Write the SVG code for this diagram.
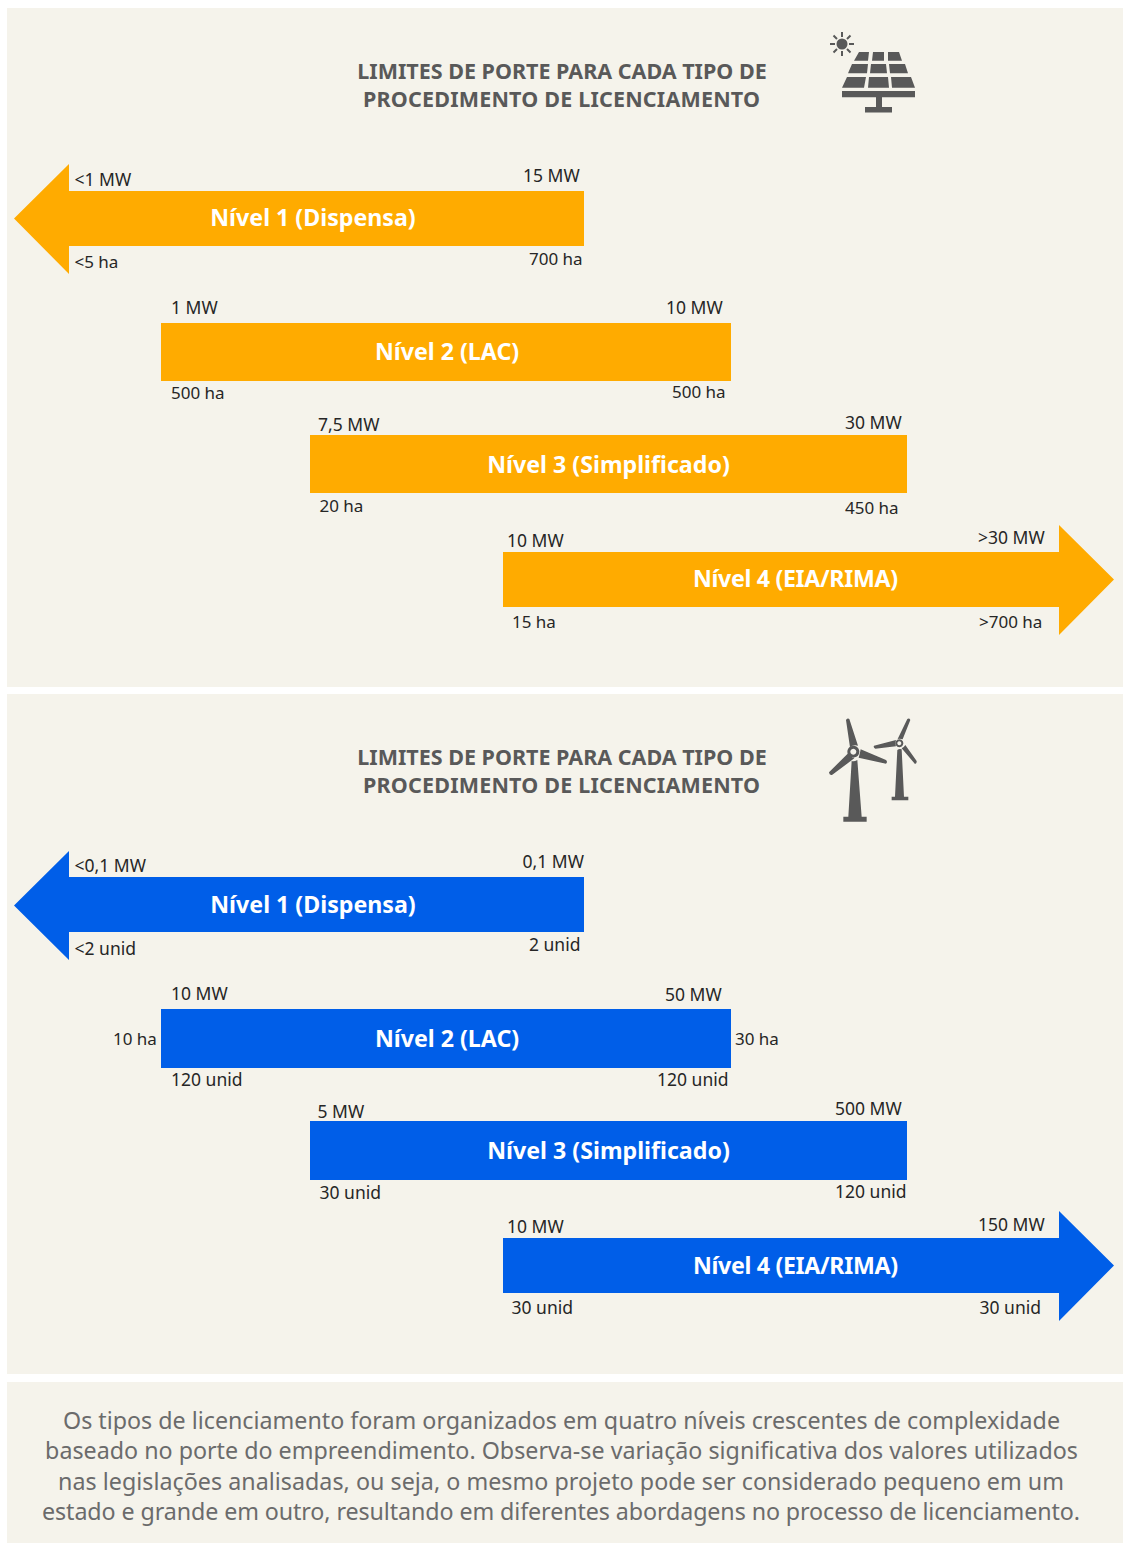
<svg xmlns="http://www.w3.org/2000/svg" width="1123" height="1543" viewBox="0 0 1123 1543">
<style>
text{font-family:"Noto Sans","Open Sans","Liberation Sans",sans-serif}
.panel{fill:#f5f3eb}
.title{font-size:21.500px;font-weight:700;fill:#595959;text-anchor:middle}
.lab{font-size:17.500px;fill:#262626}
.ha{font-size:17px}
.bar{font-size:23.200px;font-weight:700;fill:#fff;text-anchor:middle}
.note{font-size:23.250px;fill:#6b6b6b;text-anchor:middle}
.o{fill:#ffab00}.b{fill:#005ee8}
.icon{fill:#595959}
</style>
<rect width="1123" height="1543" fill="#fff"/>
<rect class="panel" x="7" y="8" width="1116" height="679"/>
<rect class="panel" x="7" y="694" width="1116" height="680"/>
<rect class="panel" x="7" y="1382" width="1116" height="161"/>
<g id="solar-title"><text class="title" x="562" y="78.500">LIMITES DE PORTE PARA CADA TIPO DE</text><text class="title" x="561.500" y="106.500" textLength="397">PROCEDIMENTO DE LICENCIAMENTO</text></g>
<g id="solar-icon" class="icon">
<circle cx="842" cy="44" r="5.500"/>
<path d="M842 32v5M842 51v5M830 44h5M849 44h5M833.500 35.500l3.500 3.500M847 49l3.500 3.500M833.500 52.500l3.500-3.500M847 39l3.500-3.500" stroke="#595959" stroke-width="2" fill="none"/>
<path d="M859 52h10l-1 8.700h-14zM873 52h11v8.700h-12zM888 52h11l3 8.700h-14zM852 64h16l-1 9.300h-19zM871 64h15l1 9.300h-17zM889 64h16l3 9.300h-18zM847 77h19l-2 10.700h-22zM869 77h19l1 10.700h-21zM891 77h20l4 10.700h-23zM842 91h73v6.300h-73zM876 97h6v11h-6zM865 107h27v5.500h-27z"/>
</g>
<g id="solar-n1"><path class="o" d="M584 191V246H69V274L14 218.500L69 164V191Z"/><text class="bar" x="313" y="226">Nível 1 (Dispensa)</text><text class="lab" x="74.500" y="186">&lt;1 MW</text><text class="lab" x="523" y="182">15 MW</text><text class="lab ha" x="74.500" y="268">&lt;5 ha</text><text class="lab ha" x="529" y="265">700 ha</text></g>
<g id="solar-n2"><rect class="o" x="161" y="323" width="570" height="58"/><text class="bar" x="447" y="360">Nível 2 (LAC)</text><text class="lab" x="171" y="314">1 MW</text><text class="lab" x="666" y="314">10 MW</text><text class="lab ha" x="171" y="399">500 ha</text><text class="lab ha" x="672" y="398">500 ha</text></g>
<g id="solar-n3"><rect class="o" x="310" y="435" width="597" height="58"/><text class="bar" x="608.500" y="473">Nível 3 (Simplificado)</text><text class="lab" x="318" y="431">7,5 MW</text><text class="lab" x="845" y="429">30 MW</text><text class="lab ha" x="319.500" y="512">20 ha</text><text class="lab ha" x="845" y="514">450 ha</text></g>
<g id="solar-n4"><path class="o" d="M503 552H1059V525L1114 579.500L1059 635V607H503Z"/><text class="bar" x="795.500" y="587" textLength="205">Nível 4 (EIA/RIMA)</text><text class="lab" x="507" y="547">10 MW</text><text class="lab" x="978" y="544">&gt;30 MW</text><text class="lab ha" x="512" y="628">15 ha</text><text class="lab ha" x="979" y="628">&gt;700 ha</text></g>
<g id="wind-title"><text class="title" x="562" y="765">LIMITES DE PORTE PARA CADA TIPO DE</text><text class="title" x="561.500" y="793" textLength="397">PROCEDIMENTO DE LICENCIAMENTO</text></g>
<g id="wind-icon" class="icon" transform="translate(800 705) scale(.3333)">
<path d="M138 45Q143 38 148 42L174 122Q160 118 150 127ZM182 133L258 165Q264 172 258 176L176 158Q180 146 182 133ZM146 143Q150 156 163 160L97 209Q88 212 87 202ZM155 168Q163 170 172 165L185 335H145ZM130 335H200V350H130Z"/>
<path fill-rule="evenodd" d="M160 122a18 18 0 1 0 .1 0ZM160 131a9 9 0 1 1-.1 0Z"/>
<path d="M322 42Q328 38 331 45L308 103Q300 100 293 102ZM316 120L350 168Q351 176 345 177L305 130Q312 127 316 120ZM222 122L288 105Q285 115 288 124L226 131Q219 127 222 122ZM292 135Q298 130 305 133L312 275H285ZM275 275H325V286H275Z"/>
<path fill-rule="evenodd" d="M298 103a12 12 0 1 0 .1 0ZM298 109a6 6 0 1 1-.1 0Z"/>
</g>
<g id="wind-n1"><path class="b" d="M584 877V932H69V960L14 905.500L69 851V877Z"/><text class="bar" x="313" y="913">Nível 1 (Dispensa)</text><text class="lab" x="74.500" y="872">&lt;0,1 MW</text><text class="lab" x="522.500" y="868">0,1 MW</text><text class="lab" x="74.500" y="955">&lt;2 unid</text><text class="lab" x="529" y="951">2 unid</text></g>
<g id="wind-n2"><rect class="b" x="161" y="1009" width="570" height="59"/><text class="bar" x="447" y="1047">Nível 2 (LAC)</text><text class="lab" x="171" y="1000">10 MW</text><text class="lab" x="665" y="1001">50 MW</text><text class="lab ha" x="113" y="1045">10 ha</text><text class="lab ha" x="735" y="1045">30 ha</text><text class="lab" x="171" y="1086">120 unid</text><text class="lab" x="657" y="1086">120 unid</text></g>
<g id="wind-n3"><rect class="b" x="310" y="1121" width="597" height="59"/><text class="bar" x="608.500" y="1159">Nível 3 (Simplificado)</text><text class="lab" x="317.500" y="1118">5 MW</text><text class="lab" x="835" y="1115">500 MW</text><text class="lab" x="319.500" y="1199">30 unid</text><text class="lab" x="835" y="1198">120 unid</text></g>
<g id="wind-n4"><path class="b" d="M503 1238H1059V1211L1114 1265.500L1059 1321V1293H503Z"/><text class="bar" x="795.500" y="1274" textLength="205">Nível 4 (EIA/RIMA)</text><text class="lab" x="507" y="1233">10 MW</text><text class="lab" x="978" y="1231">150 MW</text><text class="lab" x="511.500" y="1314">30 unid</text><text class="lab" x="979.500" y="1314">30 unid</text></g>
<g id="note"><text class="note" x="561.500" y="1429">Os tipos de licenciamento foram organizados em quatro níveis crescentes de complexidade</text><text class="note" x="561.500" y="1459">baseado no porte do empreendimento. Observa-se variação significativa dos valores utilizados</text><text class="note" x="561" y="1490" textLength="1006">nas legislações analisadas, ou seja, o mesmo projeto pode ser considerado pequeno em um</text><text class="note" x="561" y="1520" textLength="1038">estado e grande em outro, resultando em diferentes abordagens no processo de licenciamento.</text></g>
</svg>
